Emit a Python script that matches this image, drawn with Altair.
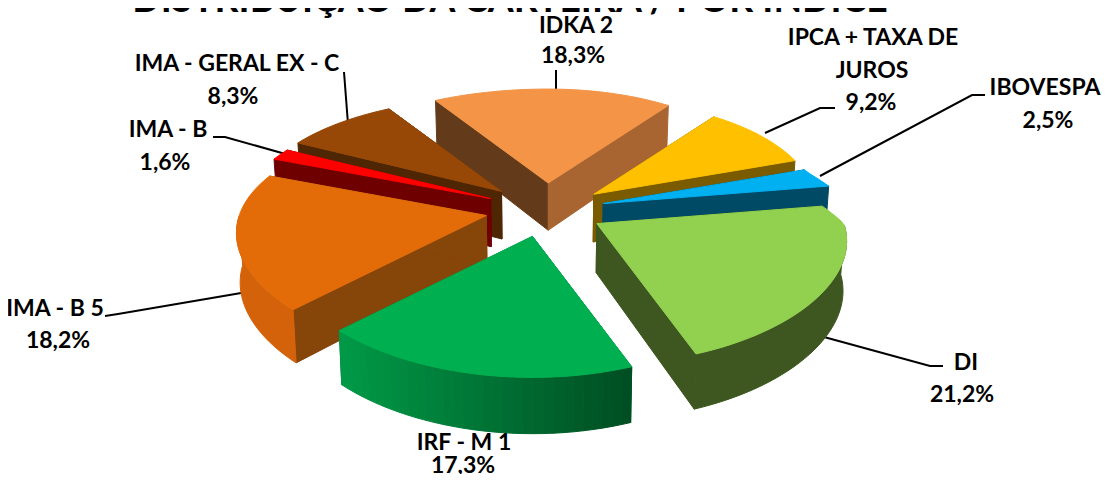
import math
import altair as alt
import pandas as pd

names = ["IDKA 2", "IPCA + TAXA DE JUROS", "IBOVESPA", "DI", "IRF - M 1", "IMA - B 5", "IMA - B", "IMA - GERAL EX - C"]
values = [18.3, 9.2, 2.5, 21.2, 17.3, 18.2, 1.6, 8.3]
top_colors = ["#F39447", "#FFC000", "#00B0F0", "#92D050", "#00B050", "#E36C09", "#FF0000", "#974806"]
start_wall = ["#643B1A", "#7A5B00", "#004A66", "#3E5720", "#00703A", "#864509", "#6E0000", "#4F2603"]
end_wall = ["#A96531", "#7A5B00", "#004A66", "#3E5720", "#00703A", "#864509", "#6E0000", "#4F2603"]
outer_left = ["#A96531", "#9A7300", "#005A7C", "#3E5720", "#009A47", "#D4620A", "#8E0000", "#6B3304"]
outer_right = ["#A96531", "#9A7300", "#005A7C", "#3E5720", "#004D22", "#D4620A", "#8E0000", "#6B3304"]
paint_order = [0, 7, 1, 6, 2, 5, 3, 4]

title = "DISTRIBUIÇÃO DA CARTEIRA / POR ÍNDICE"
label_lines = [
    ("IDKA 2", 576, 33), ("18,3%", 573, 63),
    ("IPCA + TAXA DE", 873, 45), ("JUROS", 872, 78), ("9,2%", 871, 110),
    ("IBOVESPA", 1045, 95), ("2,5%", 1048, 128),
    ("DI", 966, 370), ("21,2%", 962, 402),
    ("IRF - M 1", 464, 450), ("17,3%", 463, 473),
    ("IMA - B 5", 55, 316), ("18,2%", 58, 348),
    ("IMA - B", 168, 137), ("1,6%", 165, 170),
    ("IMA - GERAL EX - C", 237, 71), ("8,3%", 233, 104),
]
leaders = [
    [(556, 70), (556, 90)],
    [(835, 108), (820, 108), (765, 133)],
    [(985, 95), (972, 95), (820, 176)],
    [(943, 366), (930, 366), (824, 337)],
    [(105, 316), (118, 314), (247, 292)],
    [(213, 137), (225, 137), (289, 155)],
    [(344, 72), (348, 124)],
]

# 3-D view of the pie
CX, CY = 545, 210
EX, EY = 60, 27
RX, RY, KX, KY = 247, 112.8, 0.15, 0.2
START = -31.0
total = sum(values)


def top_pt(a, ax, ay):
    r = math.radians(a)
    c = math.cos(r)
    s = math.sin(r)
    squeeze = 1 - 0.1 * min(1, c / 0.3) if (s > 0 and c > 0) else 1
    return ax + RX * s * squeeze / (1 + KX * c), ay - RY * c / (1 + KY * c)


def bottom_pt(p):
    x, y = p
    return x - (x - CX) * 0.012, y + 48 + (y - 200) * 7 / 150


def mix(c1, c2, t):
    a = [int(c1[i:i + 2], 16) for i in (1, 3, 5)]
    b = [int(c2[i:i + 2], 16) for i in (1, 3, 5)]
    return "#%02x%02x%02x" % tuple(round(p + (q - p) * t) for p, q in zip(a, b))


slices = {}
cum = START
for i, v in enumerate(values):
    span = v / total * 360
    mid = math.radians(cum + span / 2)
    apex = (CX + EX * math.sin(mid), CY - EY * math.cos(mid))
    n = max(2, int(span / 2))
    angles = [cum + span * j / n for j in range(n + 1)]
    slices[i] = (apex, angles)
    cum += span

rows = []
pid = 0


def add(points, color):
    global pid
    for j, (x, y) in enumerate(points + points[:1]):
        rows.append({"x": x, "y": y, "i": j, "poly": f"p{pid:04d}", "color": color})
    pid += 1


for i in paint_order:
    apex, angles = slices[i]
    arc = [top_pt(a, *apex) for a in angles]
    # radial walls
    add([apex, arc[0], bottom_pt(arc[0]), bottom_pt(apex)], start_wall[i])
    add([apex, arc[-1], bottom_pt(arc[-1]), bottom_pt(apex)], end_wall[i])
    # outer wall: only the front-facing part of the rim
    front = [p for a, p in zip(angles, arc) if math.cos(math.radians(a)) < 0]
    if len(front) >= 2:
        if outer_left[i] == outer_right[i]:
            add(front + [bottom_pt(p) for p in reversed(front)], outer_left[i])
        else:
            xs = [p[0] for p in front]
            lo, hi = min(xs), max(xs)
            for j in range(len(front) - 1):
                t = ((front[j][0] + front[j + 1][0]) / 2 - lo) / (hi - lo)
                add([front[j], front[j + 1], bottom_pt(front[j + 1]), bottom_pt(front[j])],
                    mix(outer_left[i], outer_right[i], t))
    # top face
    add([apex] + arc, top_colors[i])

df = pd.DataFrame(rows)

W, H = 1093, 466
X = lambda f: alt.X(f, scale=alt.Scale(domain=[8, 8 + W], nice=False, zero=False), axis=None)
Y = lambda f: alt.Y(f, scale=alt.Scale(domain=[8 + H, 8], nice=False, zero=False), axis=None)

pie = alt.Chart(df).mark_line(strokeWidth=1, clip=False).encode(
    x=X("x:Q"), y=Y("y:Q"), order="i:Q", detail="poly:N",
    fill=alt.Fill("color:N", scale=None), stroke=alt.Stroke("color:N", scale=None),
)

lead_df = pd.DataFrame([
    {"x": x, "y": y, "i": j, "g": g}
    for g, pts in enumerate(leaders) for j, (x, y) in enumerate(pts)
])
lead = alt.Chart(lead_df).mark_line(color="black", strokeWidth=2).encode(
    x=X("x:Q"), y=Y("y:Q"), order="i:Q", detail="g:N"
)

lab_df = pd.DataFrame(label_lines, columns=["t", "x", "y"])
labels = alt.Chart(lab_df).mark_text(
    font="Lato", fontWeight="bold", fontSize=23, baseline="alphabetic", align="center", color="black"
).encode(x=X("x:Q"), y=Y("y:Q"), text="t:N")

title_df = pd.DataFrame([{"t": title, "x": 510, "y": 12}])
ttl = alt.Chart(title_df).mark_text(
    font="Lato", fontWeight="bold", fontSize=37.3, baseline="alphabetic", align="center", color="black"
).encode(x=X("x:Q"), y=Y("y:Q"), text="t:N")

chart = alt.layer(lead, pie, labels, ttl).properties(
    width=W, height=H, padding=0, autosize=alt.AutoSizeParams(type="none"), background="white"
).configure_view(stroke=None)

chart.save("out.html", embed_options={"renderer": "svg", "actions": False})
